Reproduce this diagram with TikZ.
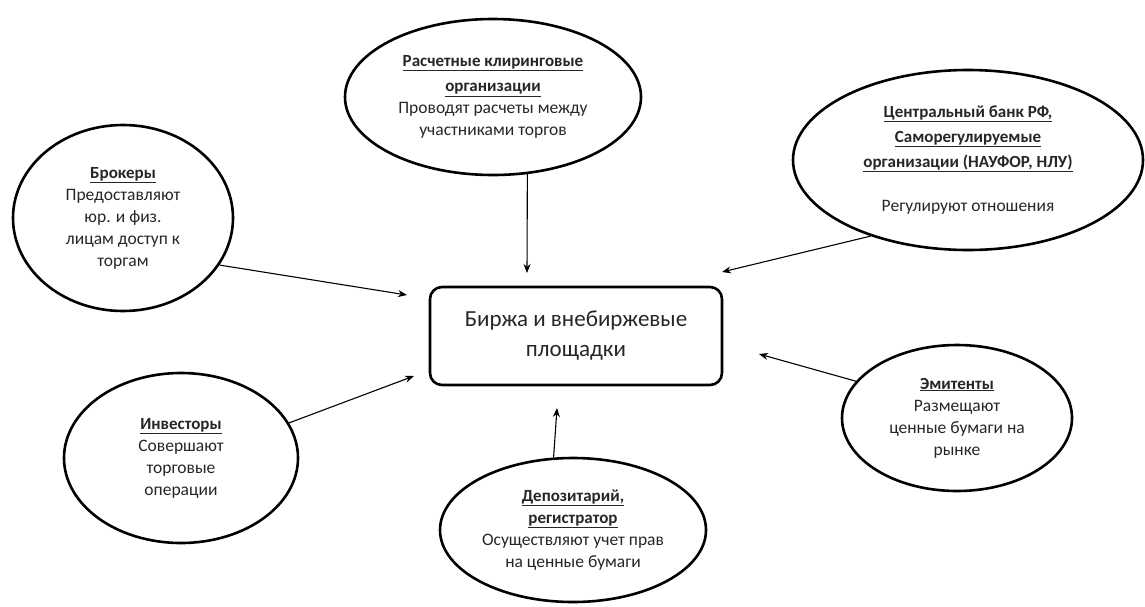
\documentclass[tikz,border=0pt]{standalone}
\usepackage{fontspec}
\setmainfont{Carlito}
\usepackage{xcolor}
\usepackage{tikz}
\usetikzlibrary{shapes.geometric}
\usetikzlibrary{arrows.meta}

\newcommand{\ttl}[1]{{\fontsize{17}{23}\selectfont\underline{\textbf{#1}}}}

\begin{document}
\begin{tikzpicture}[x=1pt,y=-1pt,
  every node/.style={text=black!85,align=center,inner sep=0pt},
  part/.style={ellipse,draw,line width=2.6pt,font=\fontsize{17.5}{22}\selectfont},
  hub/.style={rectangle,draw,line width=2.6pt,rounded corners=12pt,
    minimum width=292pt,minimum height=98pt,font=\fontsize{23}{30}\selectfont},
  link/.style={line width=1.1pt,-{Stealth[length=9pt,width=7pt]}}]
\useasboundingbox (0,0) rectangle (1145,606);

\node[hub] (market) at (576,336) {Биржа и внебиржевые\\площадки};

\node[part,minimum width=296pt,minimum height=156pt] (clear) at (493,97)
  {\ttl{Расчетные клиринговые}\\[3pt]\ttl{организации}\\Проводят расчеты между\\участниками торгов};
\node[part,minimum width=350pt,minimum height=180pt] (bank) at (968,160)
  {\ttl{Центральный банк РФ,}\\[3pt]\ttl{Саморегулируемые}\\[3pt]\ttl{организации (НАУФОР, НЛУ)}\\[22pt]Регулируют отношения};
\node[part,minimum width=220pt,minimum height=186pt] (brok) at (123,218)
  {\ttl{Брокеры}\\Предоставляют\\юр. и физ.\\лицам доступ к\\торгам};
\node[part,minimum width=234pt,minimum height=170pt] (invest) at (181,458)
  {\ttl{Инвесторы}\\Совершают\\торговые\\операции};
\node[part,minimum width=230pt,minimum height=146pt] (emit) at (957,418)
  {\ttl{Эмитенты}\\Размещают\\ценные бумаги на\\рынке};
\node[part,minimum width=266pt,minimum height=144pt] (depo) at (573,530)
  {\ttl{Депозитарий,}\\\ttl{регистратор}\\Осуществляют учет прав\\на ценные бумаги};

% arrow tips stop short of the box
\coordinate (tBrok) at (407,295);
\coordinate (tClear) at (527,273);
\coordinate (tBank) at (722,272);
\coordinate (tInvest) at (414,376);
\coordinate (tEmit) at (759,354);
\coordinate (tDepo) at (557,408);

\draw[link] (brok.-26) -- (tBrok);
\draw[link] (clear.-66.5) -- (tClear);
\draw[link] (bank.218.5) -- (tBank);
\draw[link] (invest.18.3) -- (tInvest);
\draw[link] (emit.160.8) -- (tEmit);
\draw[link] (depo.105.5) -- (tDepo);
\end{tikzpicture}
\end{document}
